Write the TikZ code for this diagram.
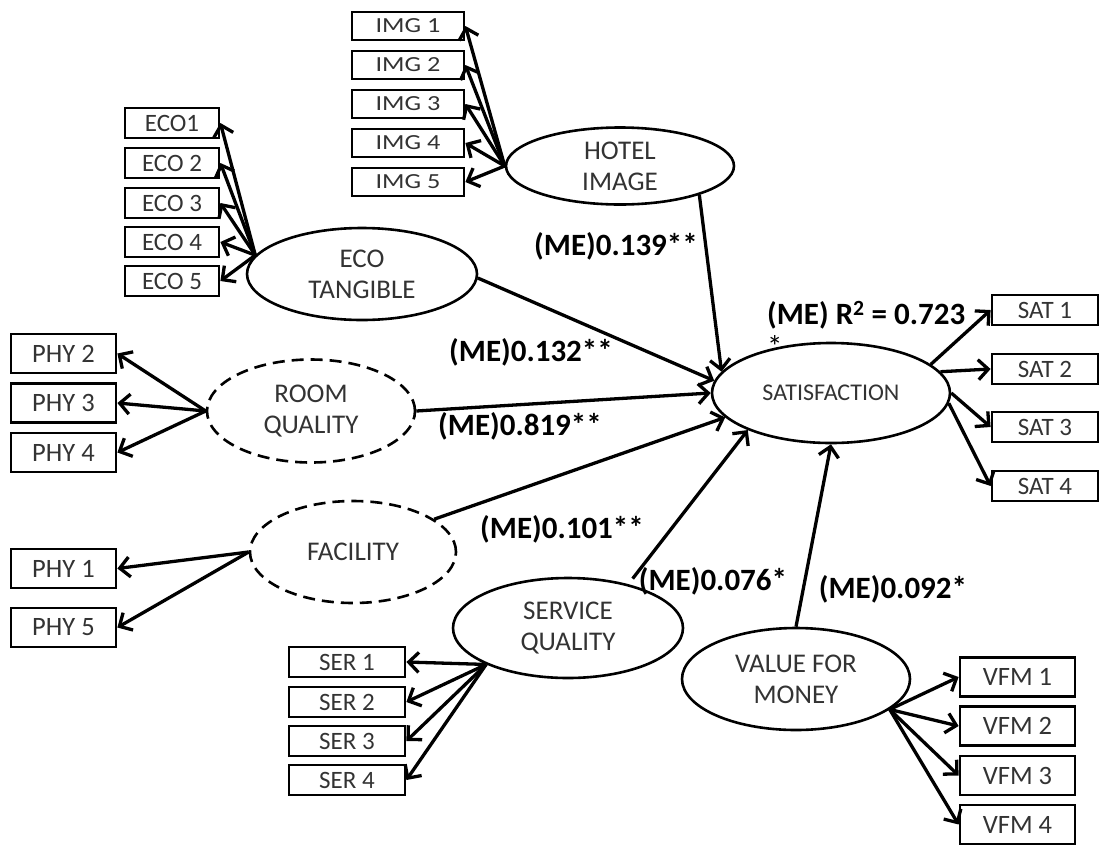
\documentclass[tikz,border=0pt]{standalone}
\usepackage{fontspec}
\setmainfont{Carlito}
\newfontfamily\imgfont[FakeStretch=1.22]{Carlito}
\usetikzlibrary{shapes.geometric,arrows.meta}
\tikzset{
  ind/.style={draw, line width=2.8pt, rectangle, inner sep=0pt, text=black!80, font=\fontsize{25}{28}\selectfont},
  bigind/.style={ind, font=\fontsize{26.5}{30}\selectfont},
  imgind/.style={ind, font=\imgfont\fontsize{21.5}{25}\selectfont},
  lat/.style={draw, ellipse, line width=2.6pt, inner sep=0pt, align=center, text=black!80, font=\fontsize{27}{31}\selectfont},
  dlat/.style={lat, dash pattern=on 12pt off 7pt},
  arr/.style={line width=3.3pt, -{Straight Barb[length=10pt,width=20pt,line width=3.3pt]}},
  lbl/.style={font=\bfseries\fontsize{31}{35}\selectfont, inner sep=0pt},
}
\begin{document}
\begin{tikzpicture}[x=1pt,y=-1pt]
\useasboundingbox (0,0) rectangle (1101,844);
% latent variables
\node[lat, minimum width=228pt, minimum height=77pt] (hotel) at (620,166) {HOTEL\\IMAGE};
\node[lat, minimum width=230pt, minimum height=92pt] (eco) at (362,274) {ECO\\TANGIBLE};
\node[dlat, minimum width=208pt, minimum height=103pt] (room) at (311,411) {ROOM\\QUALITY};
\node[dlat, minimum width=206pt, minimum height=102pt] (fac) at (353,552) {FACILITY};
\node[lat, minimum width=238pt, minimum height=100pt, font=\fontsize{24}{28}\selectfont] (sat) at (831,393) {SATISFACTION};
\node[lat, minimum width=230pt, minimum height=100pt] (serv) at (568,628) {SERVICE\\QUALITY};
\node[lat, minimum width=228pt, minimum height=102pt] (vfm) at (796,679) {VALUE FOR\\MONEY};
% indicators
\foreach \n/\y in {1/26,2/65,3/104,4/143,5/182}
  \node[imgind, minimum width=112pt, minimum height=28pt] (img\n) at (408,\y) {IMG \n};
\node[ind, minimum width=94pt, minimum height=30pt] (eco1) at (172,123) {ECO1};
\foreach \n/\y in {2/163,3/203,4/242,5/281}
  \node[ind, minimum width=94pt, minimum height=30pt] (eco\n) at (172,\y) {ECO \n};
\foreach \n/\y in {2/353.5,3/403,4/452.5,1/568.5,5/627.5}
  \node[bigind, minimum width=105pt, minimum height=39pt] (phy\n) at (63.5,\y) {PHY \n};
\foreach \n/\y in {1/310,2/369,3/427,4/486}
  \node[ind, minimum width=106pt, minimum height=30pt] (sat\n) at (1045,\y) {SAT \n};
\foreach \n/\y in {1/662,2/702,3/741,4/780}
  \node[ind, minimum width=116pt, minimum height=30pt] (ser\n) at (347,\y) {SER \n};
\foreach \n/\y in {1/677,2/726,3/775.5,4/824.5}
  \node[bigind, minimum width=115pt, minimum height=39pt] (vfmi\n) at (1017.5,\y) {VFM \n};
% measurement arrows
\foreach \n in {1,...,5} \draw[arr] (hotel.west) -- (img\n.east);
\foreach \n in {1,...,5} \draw[arr] (eco.170) -- (eco\n.east);
\foreach \n in {2,3,4} \draw[arr] (room.west) -- (phy\n.east);
\foreach \n in {1,5} \draw[arr] (fac.west) -- (phy\n.east);
\foreach \n in {1,...,4} \draw[arr] (serv.204) -- (ser\n.east);
\foreach \n in {1,...,4} \draw[arr] (vfm.342) -- (vfmi\n.west);
\draw[arr] (sat.16) -- (sat1.west);
\draw[arr] (sat.11) -- (sat2.west);
\draw[arr] (sat.0) -- (sat3.west);
\draw[arr] (sat.355) -- (sat4.west);
% structural arrows
\draw[arr] (hotel.340) -- (sat.169);
\draw[arr] (eco.358) -- (sat.174);
\draw[arr] (room.east) -- (sat.west);
\draw[arr] (fac.22) -- (sat.193);
\draw[arr, shorten <=7pt] (serv.36) -- (sat.204);
\draw[arr] (vfm.north) -- (sat.south);
% labels
\node[lbl] (l139) at (616,246) {(ME)0.139**};
\node[lbl] (l132) at (531,352) {(ME)0.132**};
\node[lbl] (l819) at (520,426) {(ME)0.819**};
\node[lbl] (l101) at (562,529) {(ME)0.101**};
\node[lbl] (l076) at (713,581) {(ME)0.076*};
\node[lbl] (l092) at (893,589) {(ME)0.092*};
\node[lbl, anchor=north west, align=left] (r2) at (767,301) {(ME) R\textsuperscript{2} = 0.723\\[-2pt]{\normalfont\fontsize{31}{31}\selectfont *}};
\end{tikzpicture}
\end{document}
